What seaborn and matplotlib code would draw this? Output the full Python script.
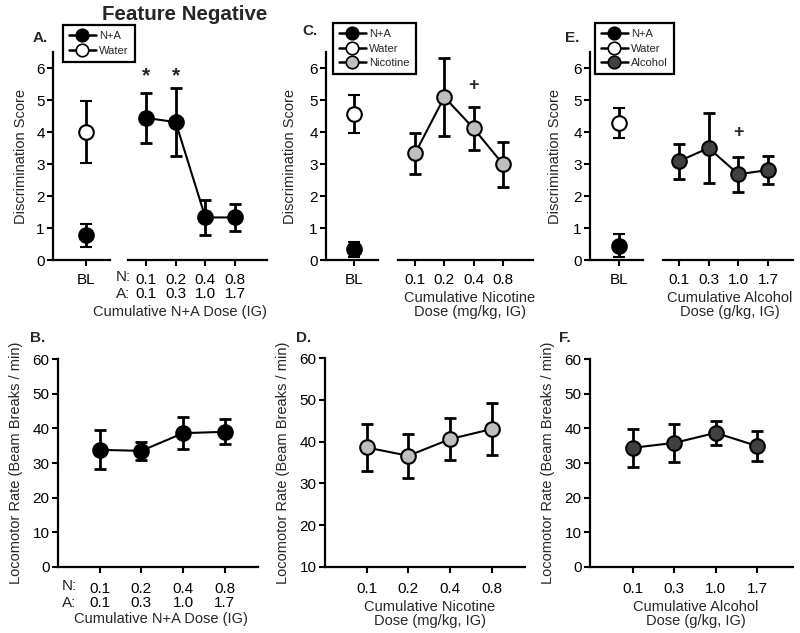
import matplotlib
matplotlib.use("Agg")
import matplotlib.pyplot as plt
from matplotlib.lines import Line2D
import pandas as pd
import seaborn as sns

# ---- data ----
na_n_doses = ["0.1", "0.2", "0.4", "0.8"]
na_a_doses = ["0.1", "0.3", "1.0", "1.7"]
nic_doses = ["0.1", "0.2", "0.4", "0.8"]
alc_doses = ["0.1", "0.3", "1.0", "1.7"]

# baseline: [N+A, Water]
a_bl_mean = [0.78, 4.0]
a_bl_err = [0.36, 0.96]
c_bl_mean = [0.33, 4.57]
c_bl_err = [0.23, 0.60]
e_bl_mean = [0.45, 4.29]
e_bl_err = [0.35, 0.47]

a_dose_mean = [4.44, 4.31, 1.33, 1.33]
a_dose_err = [0.79, 1.05, 0.55, 0.41]
c_dose_mean = [3.33, 5.09, 4.11, 2.99]
c_dose_err = [0.65, 1.21, 0.68, 0.70]
e_dose_mean = [3.09, 3.50, 2.68, 2.81]
e_dose_err = [0.55, 1.08, 0.55, 0.44]

b_mean = [33.8, 33.5, 38.6, 39.0]
b_err = [5.6, 2.6, 4.7, 3.6]
d_mean = [38.6, 36.6, 40.6, 43.0]
d_err = [5.6, 5.3, 4.95, 6.2]
f_mean = [34.4, 35.8, 38.7, 34.9]
f_err = [5.45, 5.55, 3.55, 4.3]

NA_COLOR = "black"
WATER_COLOR = "white"
NIC_COLOR = "#bfbfbf"
ALC_COLOR = "#404040"

sns.set_theme(style="ticks")
plt.rcParams["font.family"] = ["Liberation Sans", "DejaVu Sans"]

W, H = 800, 633
fig = plt.figure(figsize=(8, 6.33), dpi=100)


def px_axes(x0, y0, x1, y1):
    """Axes from pixel box (left, top, right, bottom)."""
    return fig.add_axes([x0 / W, 1 - y1 / H, (x1 - x0) / W, (y1 - y0) / H])


def style_axis(ax, xpad):
    for s in ["left", "bottom"]:
        ax.spines[s].set_linewidth(1.6)
        ax.spines[s].set_color("black")
    ax.tick_params(width=1.5, length=4, labelsize=11, colors="black", pad=2)
    ax.tick_params(axis="x", pad=xpad)
    for t in ax.get_xticklabels():
        t.set_linespacing(1.05)


def draw_series(ax, means, errs, face):
    df = pd.DataFrame({"pos": range(len(means)), "mean": means})
    ax.errorbar(df["pos"], df["mean"], yerr=errs, fmt="none", ecolor="black",
                elinewidth=2, capsize=4, capthick=2, zorder=2, clip_on=False)
    sns.lineplot(data=df, x="pos", y="mean", color="black", linewidth=1.5,
                 marker="o", markersize=10.5, markerfacecolor=face,
                 markeredgecolor="black", markeredgewidth=1.5, ax=ax,
                 zorder=3, clip_on=False)
    ax.set_xlabel("")
    ax.set_ylabel("")


def draw_baseline(ax, means, errs):
    for m, e, face in zip(means, errs, [NA_COLOR, WATER_COLOR]):
        ax.errorbar([0], [m], yerr=[e], fmt="o", color="black", ecolor="black",
                    elinewidth=2, capsize=4, capthick=2, markersize=10.5,
                    markerfacecolor=face, markeredgecolor="black",
                    markeredgewidth=1.5, zorder=3, clip_on=False)


def top_panel(bl_box, bl_xlim, dose_box, dose_xlim, bl_mean, bl_err,
              dose_mean, dose_err, face, tick_labels, ylabelpad=6):
    ax_bl = px_axes(*bl_box)
    ax_d = px_axes(*dose_box)
    ax_bl.set_yticks(range(0, 7))
    ax_bl.set_xlim(*bl_xlim)
    ax_bl.set_xticks([0])
    ax_bl.set_xticklabels(["BL"])
    draw_baseline(ax_bl, bl_mean, bl_err)
    ax_d.set_xlim(*dose_xlim)
    draw_series(ax_d, dose_mean, dose_err, face)
    ax_d.set_xticks(range(4))
    ax_d.set_xticklabels(tick_labels)
    for ax in (ax_bl, ax_d):
        sns.despine(ax=ax)
        style_axis(ax, 5)
        ax.set_ylim(0, 6.5)
    ax_d.spines["left"].set_visible(False)
    ax_d.tick_params(axis="y", left=False, labelleft=False)
    ax_bl.set_ylabel("Discrimination Score", fontsize=10.5, labelpad=ylabelpad)
    return ax_bl, ax_d


def bottom_panel(box, xlim, ylim, yticks, means, errs, face, tick_labels):
    ax = px_axes(*box)
    draw_series(ax, means, errs, face)
    ax.set_xlim(*xlim)
    ax.set_ylim(*ylim)
    ax.set_yticks(yticks)
    ax.set_xticks(range(4))
    ax.set_xticklabels(tick_labels)
    sns.despine(ax=ax)
    style_axis(ax, 6.5)
    ax.set_ylabel("Locomotor Rate (Beam Breaks / min)", fontsize=10.5, labelpad=7)
    return ax


# ---- top row ----
na_labels = [f"{n}\n{a}" for n, a in zip(na_n_doses, na_a_doses)]
axA_bl, axA = top_panel((53, 52, 110, 260), (-1, 0.73), (128, 52, 267, 260),
                        (-0.6, 4.07), a_bl_mean, a_bl_err, a_dose_mean,
                        a_dose_err, NA_COLOR, na_labels)
axC_bl, axC = top_panel((326, 52, 378, 260), (-1, 0.86), (398, 52, 533, 260),
                        (-0.58, 4.02), c_bl_mean, c_bl_err, c_dose_mean,
                        c_dose_err, NIC_COLOR, nic_doses, ylabelpad=9)
axE_bl, axE = top_panel((590, 52, 643, 260), (-1, 0.83), (663, 52, 793, 260),
                        (-0.54, 3.84), e_bl_mean, e_bl_err, e_dose_mean,
                        e_dose_err, ALC_COLOR, alc_doses, ylabelpad=8)

for x in [0, 1]:
    axA.text(x, 5.45, "*", ha="center", va="bottom", fontsize=15, fontweight="bold")
axC.text(2, 5.46, "+", ha="center", va="center", fontsize=13, fontweight="bold")
axE.text(2, 4.0, "+", ha="center", va="center", fontsize=13, fontweight="bold")

# ---- bottom row ----
axB = bottom_panel((58, 359, 258, 567), (-1, 3.8), (0, 60), range(0, 61, 10),
                   b_mean, b_err, NA_COLOR, na_labels)
axD = bottom_panel((325, 358, 525, 567), (-1, 3.8), (10, 60), range(10, 61, 10),
                   d_mean, d_err, NIC_COLOR, nic_doses)
axF = bottom_panel((590, 359, 793, 567), (-1.04, 3.87), (0, 60), range(0, 61, 10),
                   f_mean, f_err, ALC_COLOR, alc_doses)

# N:/A: row captions
fig.text(116 / W, 1 - 277 / H, "N:", fontsize=11, ha="left", va="center")
fig.text(116 / W, 1 - 294 / H, "A:", fontsize=11, ha="left", va="center")
fig.text(62 / W, 1 - 586 / H, "N:", fontsize=11, ha="left", va="center")
fig.text(62 / W, 1 - 603 / H, "A:", fontsize=11, ha="left", va="center")

# x axis titles
fig.text(180 / W, 1 - 312 / H, "Cumulative N+A Dose (IG)", fontsize=10.5,
         ha="center", va="center")
fig.text(470 / W, 1 - 305 / H, "Cumulative Nicotine\nDose (mg/kg, IG)",
         fontsize=10.5, ha="center", va="center", linespacing=1.05)
fig.text(730 / W, 1 - 305 / H, "Cumulative Alcohol\nDose (g/kg, IG)",
         fontsize=10.5, ha="center", va="center", linespacing=1.05)
fig.text(161 / W, 1 - 619 / H, "Cumulative N+A Dose (IG)", fontsize=10.5,
         ha="center", va="center")
fig.text(430 / W, 1 - 614 / H, "Cumulative Nicotine\nDose (mg/kg, IG)",
         fontsize=10.5, ha="center", va="center", linespacing=1.05)
fig.text(696 / W, 1 - 614 / H, "Cumulative Alcohol\nDose (g/kg, IG)",
         fontsize=10.5, ha="center", va="center", linespacing=1.05)

# title and panel letters
fig.text(185 / W, 1 - 14 / H, "Feature Negative", fontsize=14.8,
         fontweight="bold", ha="center", va="center")
for lbl, x, y in [("A.", 33, 38), ("C.", 302, 31), ("E.", 565, 38),
                  ("B.", 30, 338), ("D.", 296, 338), ("F.", 559, 338)]:
    fig.text(x / W, 1 - y / H, lbl, fontsize=11, fontweight="bold",
             ha="left", va="center")


# legends
def handle(face, label):
    return Line2D([], [], color="black", linewidth=1.8, marker="o",
                  markersize=9, markerfacecolor=face, markeredgecolor="black",
                  markeredgewidth=1.2, label=label)


def add_legend(handles, x, y):
    leg = fig.legend(handles=handles, loc="upper left",
                     bbox_to_anchor=(x / W, 1 - y / H), fontsize=8,
                     frameon=True, fancybox=False, handlelength=2.4,
                     handletextpad=0.3, borderpad=0.55, labelspacing=0.4,
                     borderaxespad=0)
    leg.get_frame().set_edgecolor("black")
    leg.get_frame().set_linewidth(1.6)
    leg.get_frame().set_alpha(1)


add_legend([handle(NA_COLOR, "N+A"), handle(WATER_COLOR, "Water")], 63, 25)
add_legend([handle(NA_COLOR, "N+A"), handle(WATER_COLOR, "Water"),
            handle(NIC_COLOR, "Nicotine")], 333, 23)
add_legend([handle(NA_COLOR, "N+A"), handle(WATER_COLOR, "Water"),
            handle(ALC_COLOR, "Alcohol")], 595, 23)

fig.savefig("out.png", dpi=100)
